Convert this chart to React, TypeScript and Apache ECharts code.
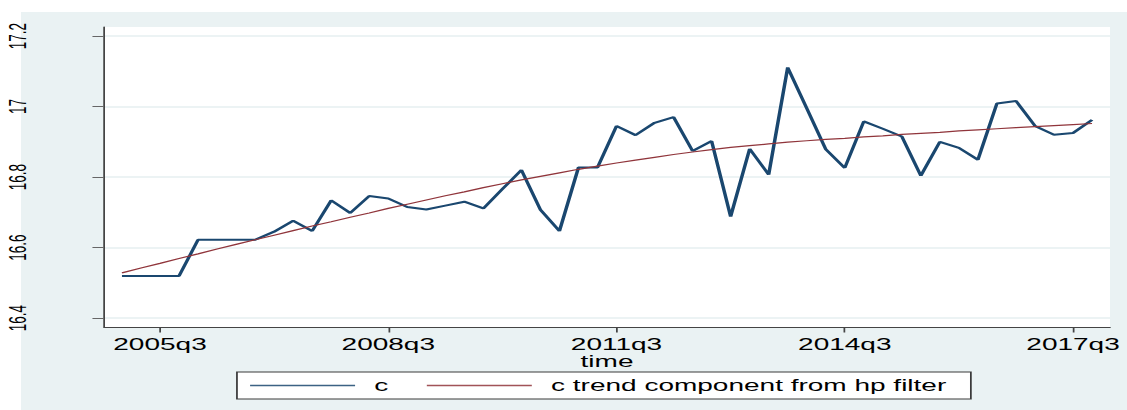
import React, { useEffect, useRef } from "react";
import * as echarts from "echarts";

// Quarterly categories: 2005q1 .. 2017q4
const startYear = 2005;
const quarters: string[] = Array.from({ length: 52 }, (_, i) => `${startYear + Math.floor(i / 4)}q${(i % 4) + 1}`);

// series "c"
const cValues: number[] = [
  16.519, 16.519, 16.519, 16.519, 16.622, 16.622, 16.622, 16.622, 16.645, 16.676,
  16.647, 16.734, 16.698, 16.746, 16.739, 16.715, 16.708, 16.719, 16.730, 16.711,
  16.766, 16.820, 16.707, 16.647, 16.827, 16.827, 16.945, 16.919, 16.954, 16.970,
  16.874, 16.902, 16.688, 16.880, 16.807, 17.111, 16.995, 16.879, 16.826, 16.958,
  16.937, 16.915, 16.804, 16.900, 16.883, 16.849, 17.009, 17.016, 16.945, 16.920,
  16.925, 16.962,
];

// series "c trend component from hp filter"
const trendValues: number[] = [
  16.528, 16.542, 16.555, 16.569, 16.582, 16.596, 16.609, 16.622, 16.635, 16.648,
  16.661, 16.673, 16.686, 16.698, 16.711, 16.723, 16.735, 16.747, 16.758, 16.770,
  16.781, 16.792, 16.802, 16.812, 16.822, 16.831, 16.840, 16.848, 16.856, 16.864,
  16.871, 16.878, 16.884, 16.889, 16.894, 16.899, 16.903, 16.907, 16.910, 16.914,
  16.917, 16.921, 16.924, 16.927, 16.931, 16.934, 16.937, 16.940, 16.943, 16.946,
  16.949, 16.952,
];

const xTickValues: number[] = [2, 14, 26, 38, 50];
const xTickLabels: string[] = ["2005q3", "2008q3", "2011q3", "2014q3", "2017q3"];
const yTickValues: number[] = [16.4, 16.6, 16.8, 17, 17.2];
const yTickLabels: string[] = ["16.4", "16.6", "16.8", "17", "17.2"];

const seriesNames = ["c", "c trend component from hp filter"];
const seriesColors = ["#1a476f", "#90353b"];

const STRETCH = 1.75;
const W = 644;
const H = 410;
const FONT = "'Liberation Sans', Arial, sans-serif";

export default function App() {
  const ref = useRef<HTMLDivElement>(null);
  useEffect(() => {
    if (!ref.current) return;
    const chart = echarts.init(ref.current, undefined, { renderer: "svg", width: W, height: H });
    const option: any = {
      animation: false,
      textStyle: { fontFamily: FONT, color: "#000" },
      graphic: [
        {
          type: "rect",
          x: 12,
          y: 12,
          z: -100,
          silent: true,
          shape: { width: W - 12, height: H - 12 },
          style: { fill: "#EAF2F3" },
        },
      ],
      grid: {
        left: 59.43,
        right: 9.71,
        top: 27,
        height: 300,
        show: true,
        backgroundColor: "#ffffff",
        borderWidth: 0,
      },
      xAxis: {
        type: "value",
        min: -0.944,
        max: 51.944,
        name: "time",
        nameLocation: "middle",
        nameGap: 26.5,
        nameMoveOverlap: false,
        nameTextStyle: { fontSize: 16, color: "#000", fontFamily: FONT },
        axisLine: { show: true, onZero: false, lineStyle: { color: "#444", width: 1 } },
        axisTick: { show: true, length: 5.5, customValues: xTickValues, lineStyle: { color: "#444", width: 1 } },
        axisLabel: {
          customValues: xTickValues,
          margin: 9,
          fontSize: 16,
          color: "#000",
          fontFamily: FONT,
          formatter: (v: number) => {
            const idx = xTickValues.indexOf(Math.round(v));
            return idx >= 0 ? xTickLabels[idx] : quarters[Math.round(v)] || "";
          },
        },
        splitLine: { show: false },
      },
      yAxis: {
        type: "value",
        min: 16.3745,
        max: 17.2258,
        axisLine: { show: true, onZero: false, lineStyle: { color: "#444", width: 1 } },
        axisTick: { show: true, length: 6.6, customValues: yTickValues, lineStyle: { color: "#666", width: 1 } },
        axisLabel: {
          customValues: yTickValues,
          rotate: 90,
          margin: 42,
          fontSize: 13.5,
          color: "#000",
          fontFamily: FONT,
          formatter: (v: number) => {
            const idx = yTickValues.findIndex((t) => Math.abs(t - v) < 1e-6);
            return idx >= 0 ? yTickLabels[idx] : String(v);
          },
        },
        splitLine: { show: true, lineStyle: { color: "#E6EFF0", width: 1.5 } },
      },
      legend: {
        left: 135.4,
        top: 372,
        orient: "horizontal",
        backgroundColor: "#ffffff",
        borderColor: "#3a3a3a",
        borderWidth: 1,
        borderRadius: 0,
        padding: [5.5, 14, 5.5, 7.5],
        icon: "rect",
        itemWidth: 60,
        itemHeight: 1.3,
        itemGap: 22,
        textStyle: { fontSize: 16, color: "#000", fontFamily: FONT, padding: [0, 0, 0, 6] },
        data: seriesNames.map((n, i) => ({
          name: n,
          itemStyle: { color: seriesColors[i], borderWidth: 0, opacity: 0.85 },
        })),
      },
      series: [
        {
          name: seriesNames[0],
          type: "line",
          symbol: "none",
          data: cValues.map((v, i) => [i, v]),
          lineStyle: { color: seriesColors[0], width: 2 },
          itemStyle: { color: seriesColors[0] },
          z: 3,
        },
        {
          name: seriesNames[1],
          type: "line",
          symbol: "none",
          data: trendValues.map((v, i) => [i, v]),
          lineStyle: { color: seriesColors[1], width: 1.2 },
          itemStyle: { color: seriesColors[1] },
          z: 4,
        },
      ],
    };
    chart.setOption(option);
    return () => chart.dispose();
  }, []);
  return (
    <div
      ref={ref}
      style={{
        position: "absolute",
        left: 0,
        top: 0,
        width: W,
        height: H,
        transform: `scaleX(${STRETCH})`,
        transformOrigin: "0 0",
      }}
    />
  );
}
